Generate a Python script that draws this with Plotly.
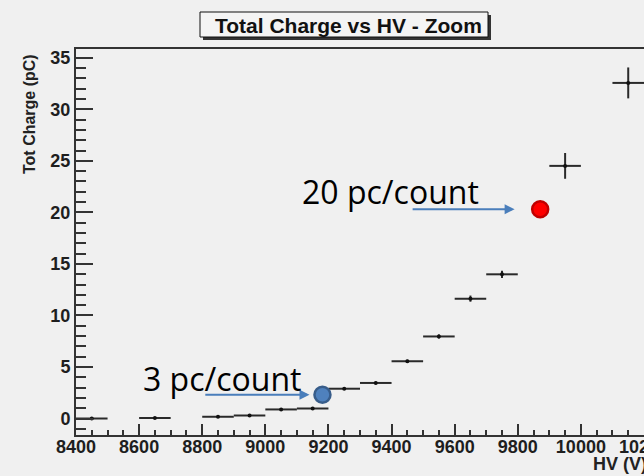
import plotly.graph_objects as go

# ---- data ----
hv = [8450, 8650, 8850, 8950, 9050, 9150, 9250, 9350, 9450, 9550, 9650, 9750, 9950, 10150]
charge = [0.0, 0.05, 0.17, 0.3, 0.88, 0.97, 2.89, 3.45, 5.55, 7.96, 11.63, 13.99, 24.51, 32.56]
hv_err = [50, 50, 50, 50, 50, 50, 50, 50, 50, 50, 50, 50, 50, 50]
charge_err = [0.05, 0.05, 0.05, 0.05, 0.08, 0.08, 0.1, 0.12, 0.15, 0.2, 0.3, 0.35, 1.25, 1.5]

hl_hv = [9181, 9871]
hl_charge = [2.3, 20.3]
hl_fill = ["#4f81bd", "#ff0000"]
hl_edge = ["#385d8a", "#c00000"]
hl_labels = ["3 pc/count", "20 pc/count"]
label_hv = [8605, 9110]
label_charge = [3.9, 22.0]
arrow_from_hv = [8805, 9462]
arrow_to_hv = [9140, 9790]

title_text = "Total Charge vs HV - Zoom"
x_title = "HV (V)"
y_title = "Tot Charge (pC)"

x_range = [8400, 10200]
y_range = [-1.6, 35.85]

# ---- layout geometry (pixels) ----
W, H = 644, 476
ML, MR, MT, MB = 76, 0, 49, 41
PW, PH = W - ML - MR, H - MT - MB


def px(xp):
    return (xp - ML) / PW


def py(yp):
    return 1 - (yp - MT) / PH


bg = "#f0f0f0"
ink = "#2a2a2a"

fig = go.Figure()
fig.add_trace(go.Scatter(
    x=hv, y=charge, mode="markers",
    marker=dict(size=4, color="#111111"),
    error_x=dict(type="data", array=hv_err, color=ink, thickness=2, width=0),
    error_y=dict(type="data", array=charge_err, color=ink, thickness=2, width=0),
    hoverinfo="x+y",
))
fig.add_trace(go.Scatter(
    x=hl_hv, y=hl_charge, mode="markers",
    marker=dict(size=16, color=hl_fill, line=dict(color=hl_edge, width=2.5)),
))

annotations = []
for i in range(len(hl_hv)):
    annotations.append(dict(
        x=arrow_to_hv[i], y=hl_charge[i], ax=arrow_from_hv[i], ay=hl_charge[i],
        xref="x", yref="y", axref="x", ayref="y", text="", showarrow=True,
        arrowhead=2, arrowsize=1, arrowwidth=2, arrowcolor="#4a7ebb",
    ))
    annotations.append(dict(
        x=label_hv[i], y=label_charge[i], xref="x", yref="y", text=hl_labels[i],
        showarrow=False, xanchor="left", yanchor="middle",
        font=dict(family="Open Sans", size=32, color="#000000"),
    ))

# title
annotations.append(dict(
    x=px(348), y=py(25), xref="paper", yref="paper", text=title_text,
    showarrow=False, xanchor="center", yanchor="middle",
    font=dict(family="Liberation Sans", size=21, color="#111111", weight="bold"),
))
# axis titles
annotations.append(dict(
    x=px(30), y=py(114), xref="paper", yref="paper", text=y_title, textangle=-90,
    showarrow=False, xanchor="center", yanchor="middle",
    font=dict(family="Liberation Sans", size=16, color="#222222", weight="bold"),
))
annotations.append(dict(
    x=px(591), y=py(464), xref="paper", yref="paper", text=x_title,
    showarrow=False, xanchor="left", yanchor="middle",
    font=dict(family="Liberation Sans", size=18, color="#222222", weight="bold"),
))

shapes = [
    dict(type="rect", xref="paper", yref="paper", x0=px(203), x1=px(491), y0=py(15), y1=py(40),
         fillcolor="#333333", line=dict(width=0), layer="above"),
    dict(type="rect", xref="paper", yref="paper", x0=px(200), x1=px(488), y0=py(12), y1=py(37),
         fillcolor="#f4f4f4", line=dict(color="#111111", width=1), layer="above"),
]

tickfont = dict(family="Liberation Sans", size=18, color="#1e1e1e", weight="bold")
fig.update_layout(
    width=W, height=H, margin=dict(l=ML, r=MR, t=MT, b=MB, autoexpand=False),
    paper_bgcolor=bg, plot_bgcolor=bg, showlegend=False,
    annotations=annotations, shapes=shapes,
    xaxis=dict(
        range=x_range, tick0=8400, dtick=200, tickformat="d", ticks="inside", ticklen=11, tickwidth=2,
        tickcolor="#333333", showline=True, linecolor="#333333", linewidth=2, mirror=True,
        showgrid=False, zeroline=False, tickfont=tickfont, ticklabeloverflow="allow",
        ticklabelstandoff=-6, automargin=False,
        minor=dict(dtick=50, ticks="inside", ticklen=5, tickwidth=2, tickcolor="#333333", showgrid=False),
    ),
    yaxis=dict(
        range=y_range, tick0=0, dtick=5, ticks="inside", ticklen=17, tickwidth=2,
        tickcolor="#333333", showline=True, linecolor="#333333", linewidth=2, mirror=False,
        showgrid=False, zeroline=False, tickfont=tickfont, automargin=False,
        minor=dict(dtick=1, ticks="inside", ticklen=10, tickwidth=2, tickcolor="#333333", showgrid=False),
    ),
)

fig.write_html("out.html")
